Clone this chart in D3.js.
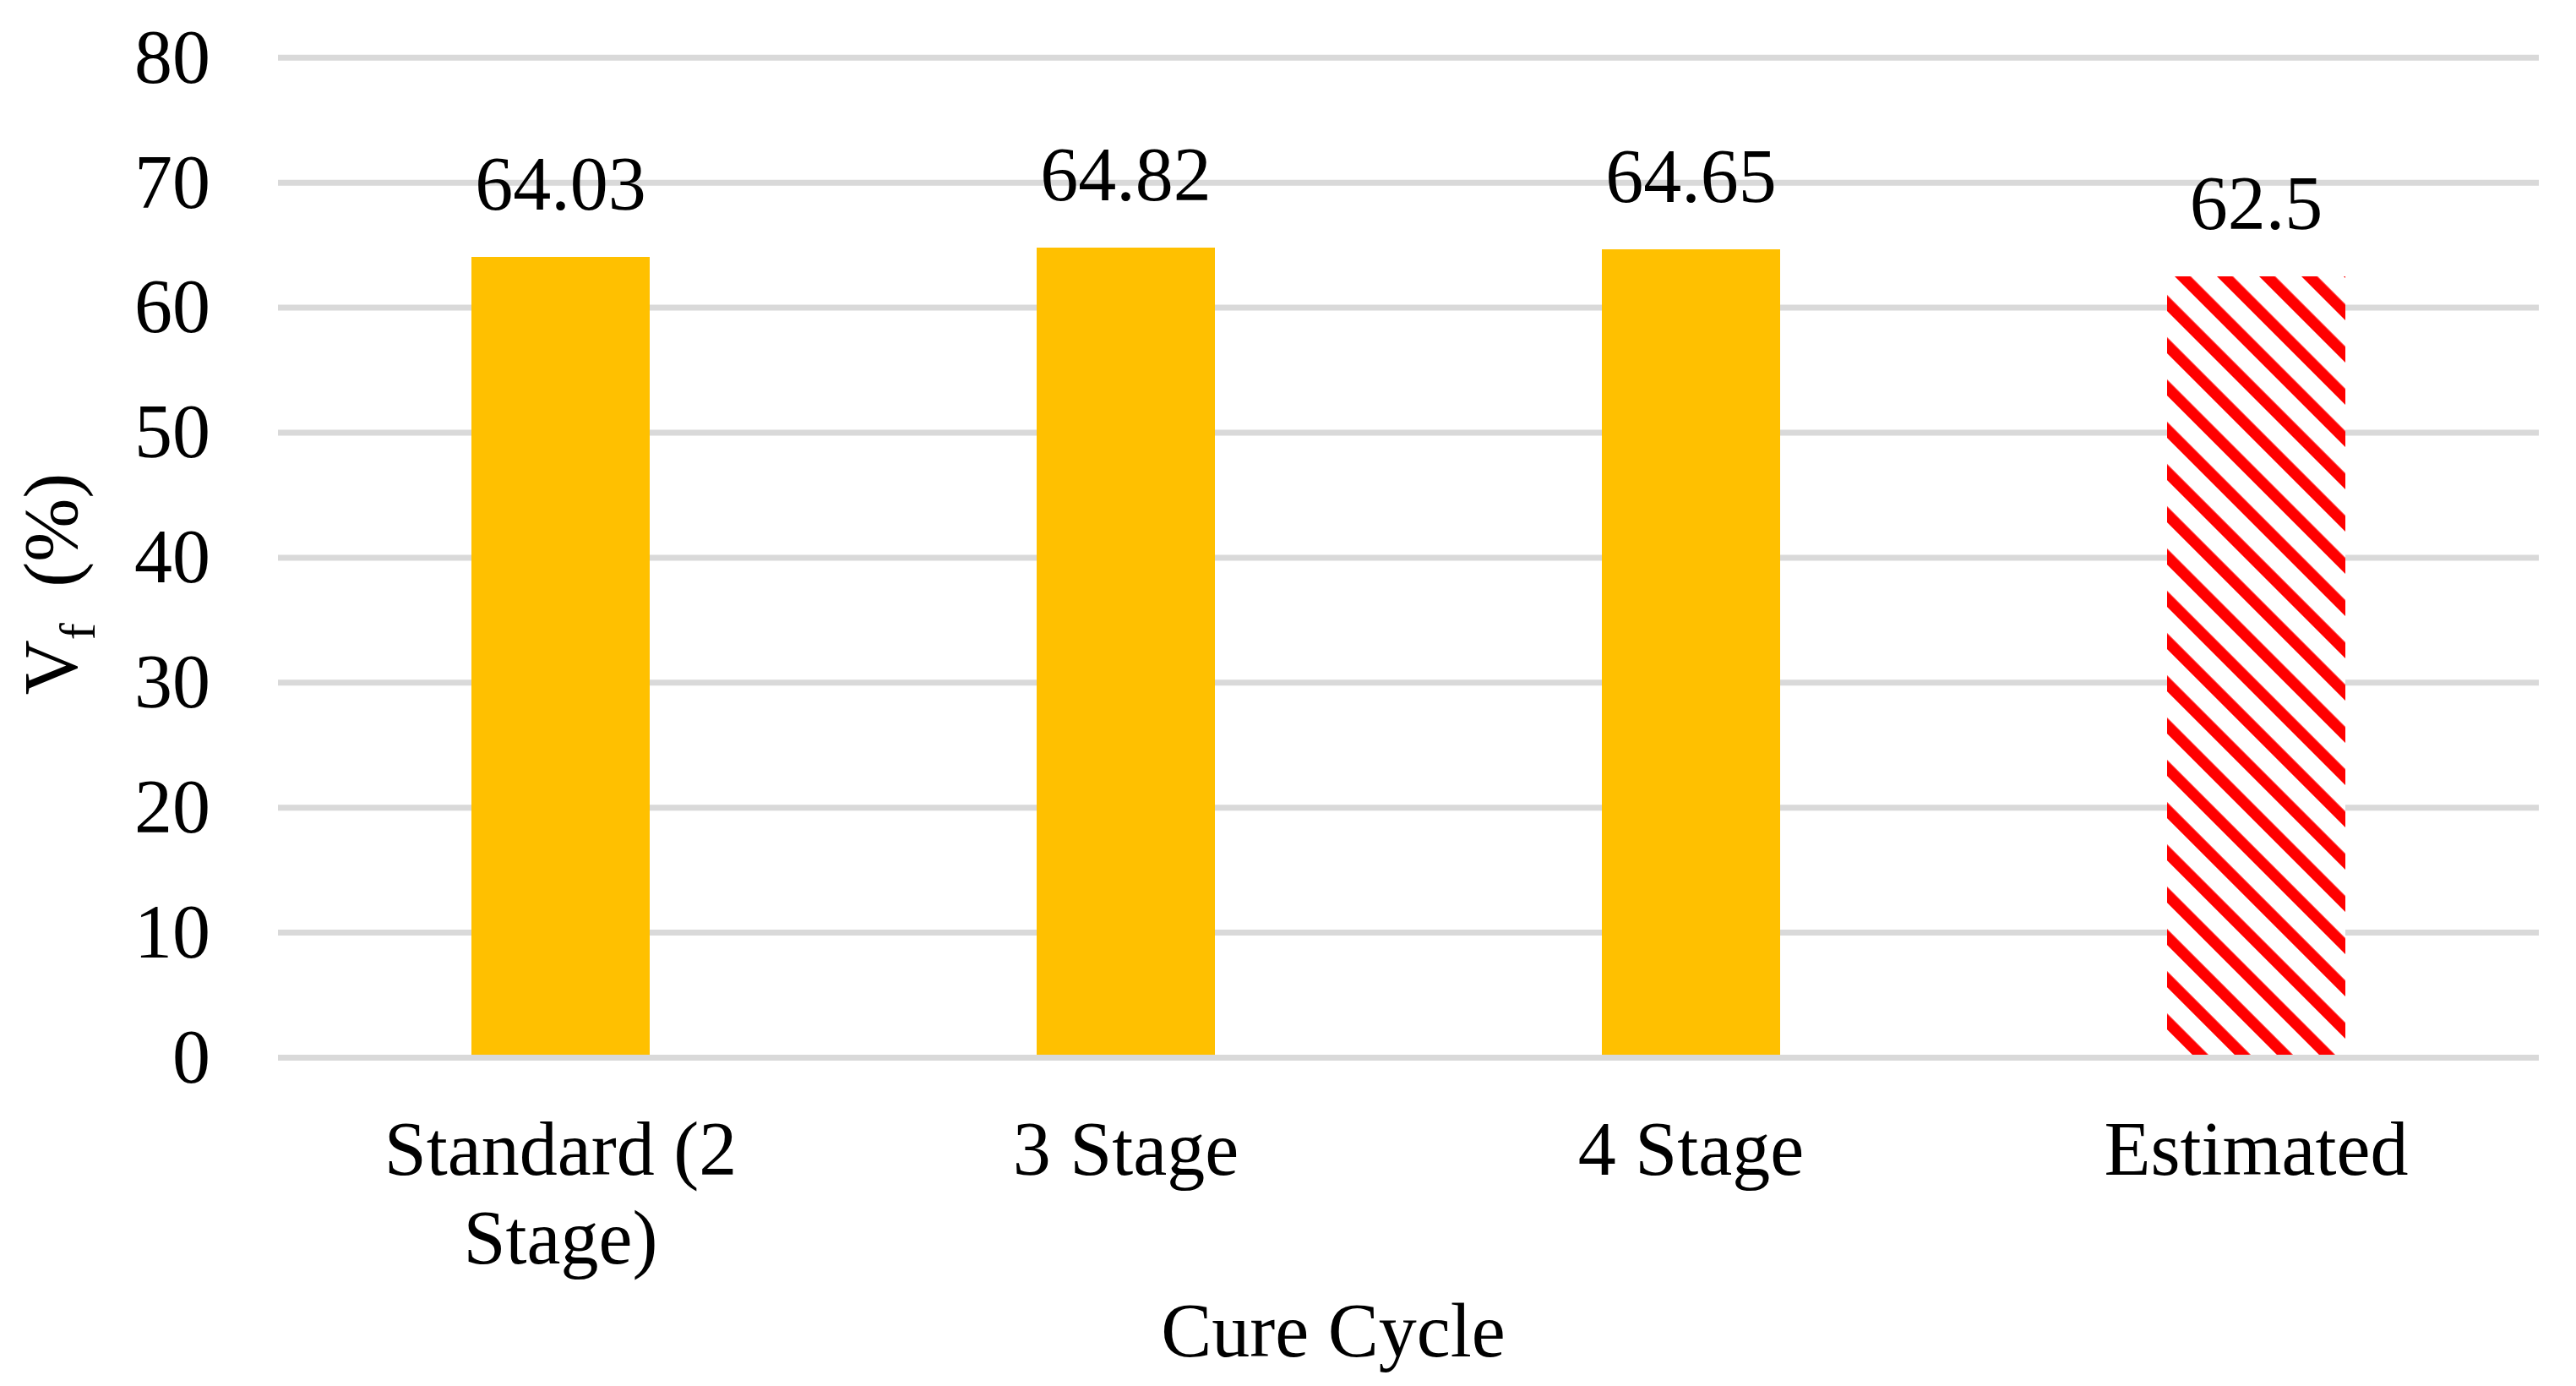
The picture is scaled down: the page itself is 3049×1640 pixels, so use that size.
<!DOCTYPE html>
<html>
<head>
<meta charset="utf-8">
<script src="https://cdn.jsdelivr.net/npm/d3@7"></script>
<style>
  body { margin: 0; background: #fff; }
  text { font-family: "Liberation Serif", "Times New Roman", serif; fill: #000; }
</style>
</head>
<body>
<div id="chart"></div>
<script>
// Chart data
let categories = ["Standard (2 Stage)", "3 Stage", "4 Stage", "Estimated"];
let catLines = [["Standard (2", "Stage)"], ["3 Stage"], ["4 Stage"], ["Estimated"]];
let vfValues = [64.03, 64.82, 64.65, 62.5];
let valueLabels = ["64.03", "64.82", "64.65", "62.5"];
let yTicks = [0, 10, 20, 30, 40, 50, 60, 70, 80];

// SVG area
let svgWidth = 3049;
let svgHeight = 1640;

let svg = d3.select("#chart")
    .append("svg")
    .attr("width", svgWidth)
    .attr("height", svgHeight);

// hatch for the estimated bar (downward diagonal)
let defs = svg.append("defs");
let pat = defs.append("pattern")
    .attr("id", "hatch")
    .attr("patternUnits", "userSpaceOnUse")
    .attr("width", 35.36)
    .attr("height", 35.36)
    .attr("patternTransform", "translate(2547,0) rotate(-45)");
pat.append("rect").attr("width", 35.36).attr("height", 35.36).attr("fill", "#fff");
pat.append("rect").attr("width", 13.4).attr("height", 35.36).attr("fill", "#ff0000");

// Scales
let xScale = d3.scaleBand()
    .domain(categories)
    .range([329, 3005])
    .paddingInner(0.6846)
    .paddingOuter(0.3423);

let yScale = d3.scaleLinear()
    .domain([0, 80])
    .range([1251.5, 68.3]);

// Gridlines
svg.append("g")
    .selectAll("line")
    .data(yTicks)
    .enter()
    .append("line")
    .attr("x1", 329)
    .attr("x2", 3005)
    .attr("y1", d => yScale(d))
    .attr("y2", d => yScale(d))
    .attr("stroke", "#d9d9d9")
    .attr("stroke-width", 7);

// Y tick labels
let yAxis = d3.axisLeft(yScale).tickValues(yTicks).tickSize(0).tickPadding(0);
let yAxisG = svg.append("g")
    .attr("transform", "translate(249,0)")
    .call(yAxis);
yAxisG.select(".domain").remove();
yAxisG.selectAll("text")
    .attr("font-size", "90px")
    .attr("font-family", "Liberation Serif")
    .attr("fill", "#000")
    .attr("dy", "0.32em");

// Bars
svg.append("g")
    .selectAll("rect")
    .data(vfValues)
    .enter()
    .append("rect")
    .attr("x", (d, i) => xScale(categories[i]))
    .attr("y", d => yScale(d))
    .attr("width", xScale.bandwidth())
    .attr("height", d => yScale(0) - yScale(d) - 3.5)
    .attr("fill", (d, i) => i === 3 ? "url(#hatch)" : "#ffc000")
    .attr("shape-rendering", "crispEdges");

// Value labels
svg.append("g")
    .selectAll("text")
    .data(vfValues)
    .enter()
    .append("text")
    .attr("x", (d, i) => xScale(categories[i]) + xScale.bandwidth() / 2)
    .attr("y", d => yScale(d) - 56)
    .attr("text-anchor", "middle")
    .attr("font-size", "90px")
    .text((d, i) => valueLabels[i]);

// Category labels
let catG = svg.append("g")
    .selectAll("text")
    .data(catLines)
    .enter()
    .append("text")
    .attr("text-anchor", "middle")
    .attr("font-size", "90px")
    .attr("x", (d, i) => xScale(categories[i]) + xScale.bandwidth() / 2)
    .attr("y", 1390);
catG.selectAll("tspan")
    .data(d => d)
    .enter()
    .append("tspan")
    .attr("x", function() { return d3.select(this.parentNode).attr("x"); })
    .attr("dy", (d, i) => i === 0 ? 0 : 105)
    .text(d => d);

// X axis title
svg.append("text")
    .attr("x", 1578)
    .attr("y", 1605)
    .attr("text-anchor", "middle")
    .attr("font-size", "90px")
    .text("Cure Cycle");

// Y axis title
let yTitle = svg.append("text")
    .attr("transform", "translate(91, 691) rotate(-90)")
    .attr("text-anchor", "middle")
    .attr("font-size", "90px");
yTitle.append("tspan").text("V");
yTitle.append("tspan").attr("font-size", "60px").attr("dy", 21).text("f");
yTitle.append("tspan").attr("dy", -21).attr("dx", 20).text(" (%)");
</script>
</body>
</html>
